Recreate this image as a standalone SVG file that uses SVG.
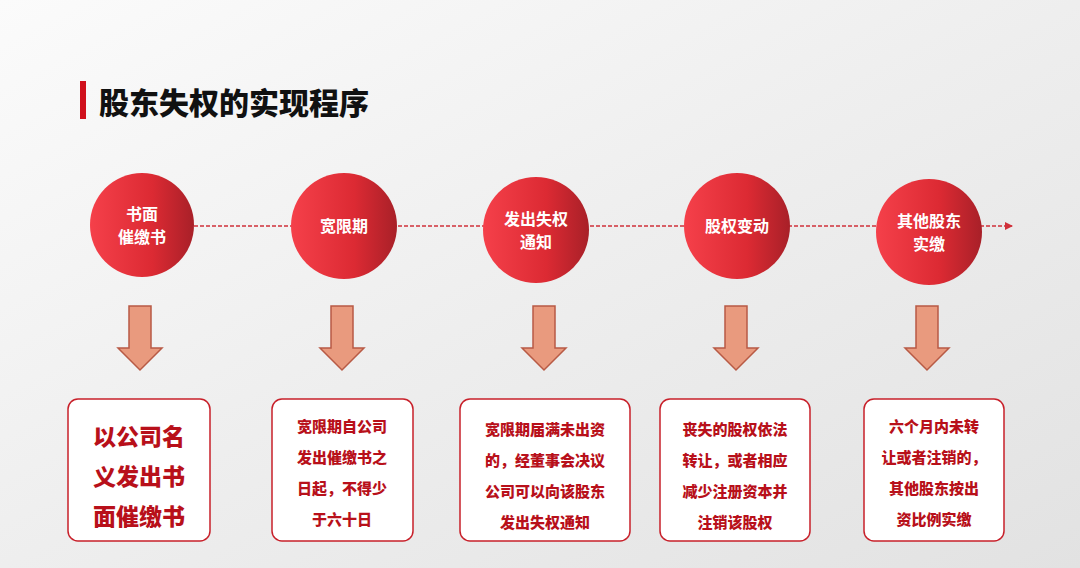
<svg xmlns="http://www.w3.org/2000/svg" width="1080" height="568" viewBox="0 0 1080 568">
<defs>
<linearGradient id="bg" x1="0" y1="0" x2="1" y2="1"><stop offset="0" stop-color="#fbfbfb"/><stop offset="0.5" stop-color="#eeeeee"/><stop offset="1" stop-color="#e2e2e2"/></linearGradient>
<linearGradient id="cg" x1="0" y1="0" x2="1" y2="0"><stop offset="0" stop-color="#f5404a"/><stop offset="0.6" stop-color="#dc2a33"/><stop offset="1" stop-color="#a82028"/></linearGradient>
<marker id="ah" markerWidth="8" markerHeight="8" refX="7" refY="4" orient="auto" markerUnits="userSpaceOnUse"><path d="M0,0 L8,4 L0,8 z" fill="#d0303a"/></marker>
<path id="dn" d="M-11,0 H11 V42 H22 L0,64 L-22,42 H-11 Z"/>
</defs>
<style>
.c{fill:url(#cg)}
.ct{font-family:"Noto Sans CJK SC",sans-serif;font-weight:bold;font-size:16px;fill:#fff;text-anchor:middle}
.ar{fill:#e99a7e;stroke:#b85a45;stroke-width:1.5}
.bx{fill:#fff;stroke:#c8202a;stroke-width:1.5}
.bt{font-family:"Noto Sans CJK SC",sans-serif;font-weight:900;font-size:15px;fill:#b8101a;text-anchor:middle}
.bb{font-size:23px}
</style>
<rect width="1080" height="568" fill="url(#bg)"/>
<rect x="80" y="81" width="6" height="38" fill="#d0101c"/>
<text x="99" y="114" font-family="Noto Sans CJK SC,sans-serif" font-weight="900" font-size="30" fill="#111">股东失权的实现程序</text>
<g id="connectors">
<line x1="194" y1="226" x2="1012" y2="226" stroke="#d0303a" stroke-width="1.5" stroke-dasharray="4,2" marker-end="url(#ah)"/>
<use href="#dn" x="140" y="306" class="ar"/>
<use href="#dn" x="342" y="306" class="ar"/>
<use href="#dn" x="544" y="306" class="ar"/>
<use href="#dn" x="736" y="306" class="ar"/>
<use href="#dn" x="927" y="306" class="ar"/>
</g>
<g id="n1"><circle cx="142" cy="225" r="52" class="c"/><text class="ct" x="142" y="220">书面</text><text class="ct" x="142" y="243">催缴书</text></g>
<g id="n2"><circle cx="344" cy="226" r="53" class="c"/><text class="ct" x="344" y="232">宽限期</text></g>
<g id="n3"><circle cx="536" cy="230" r="53" class="c"/><text class="ct" x="536" y="225">发出失权</text><text class="ct" x="536" y="248">通知</text></g>
<g id="n4"><circle cx="737" cy="226" r="53" class="c"/><text class="ct" x="737" y="232">股权变动</text></g>
<g id="n5"><circle cx="929" cy="232" r="53" class="c"/><text class="ct" x="929" y="227">其他股东</text><text class="ct" x="929" y="250">实缴</text></g>
<g id="b1"><rect x="68" y="399" width="142" height="142" rx="10" class="bx"/>
<text class="bt bb" x="139" y="445">以公司名</text><text class="bt bb" x="139" y="485">义发出书</text><text class="bt bb" x="139" y="525">面催缴书</text></g>
<g id="b2"><rect x="272" y="399" width="141" height="142" rx="10" class="bx"/>
<text class="bt" x="342" y="432">宽限期自公司</text><text class="bt" x="342" y="463">发出催缴书之</text><text class="bt" x="342" y="494">日起，不得少</text><text class="bt" x="342" y="525">于六十日</text></g>
<g id="b3"><rect x="460" y="399" width="170" height="142" rx="10" class="bx"/>
<text class="bt" x="545" y="435">宽限期届满未出资</text><text class="bt" x="545" y="466">的，经董事会决议</text><text class="bt" x="545" y="497">公司可以向该股东</text><text class="bt" x="545" y="528">发出失权通知</text></g>
<g id="b4"><rect x="660" y="399" width="150" height="142" rx="10" class="bx"/>
<text class="bt" x="735" y="435">丧失的股权依法</text><text class="bt" x="735" y="466">转让，或者相应</text><text class="bt" x="735" y="497">减少注册资本并</text><text class="bt" x="735" y="528">注销该股权</text></g>
<g id="b5"><rect x="864" y="399" width="140" height="142" rx="10" class="bx"/>
<text class="bt" x="934" y="432">六个月内未转</text><text class="bt" x="934" y="463">让或者注销的，</text><text class="bt" x="934" y="494">其他股东按出</text><text class="bt" x="934" y="525">资比例实缴</text></g>
</svg>
